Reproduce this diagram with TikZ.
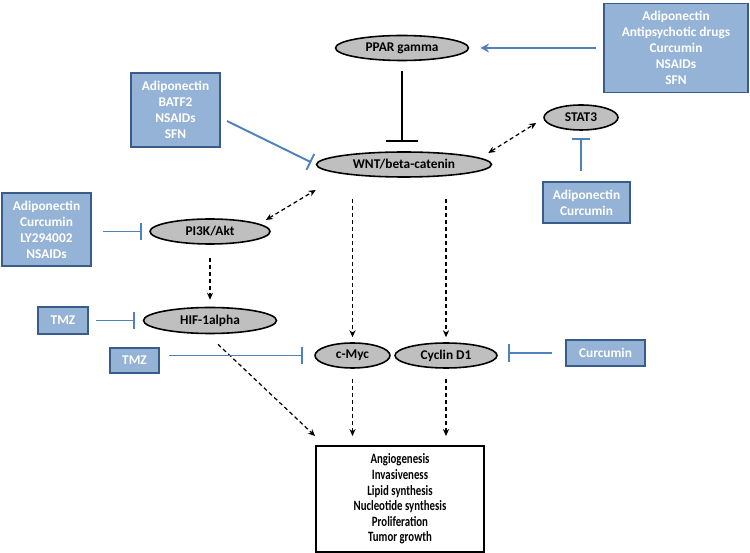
\documentclass[tikz,border=0pt]{standalone}
\usepackage{fontspec}
\setmainfont{Carlito}
\newfontfamily\narrowcal{Carlito}[FakeStretch=0.76]
\usepackage{tikz}
\usetikzlibrary{shapes.geometric}
\usetikzlibrary{arrows.meta}
\definecolor{drugfill}{HTML}{95B3D7}
\definecolor{drugedge}{HTML}{385D8A}
\definecolor{drugline}{HTML}{4F81BD}
\definecolor{genefill}{HTML}{BFBFBF}

\begin{document}
\begin{tikzpicture}[x=0.02cm, y=-0.02cm,
gene/.style={ellipse, draw=black, line width=0.9pt, fill=genefill, inner sep=1pt, font=\fontsize{7.6}{9}\selectfont\bfseries},
drug/.style={rectangle, draw=drugedge, line width=0.9pt, fill=drugfill, text=white, align=center, inner sep=1pt, font=\fontsize{7.6}{9.07}\selectfont\bfseries},
effect/.style={rectangle, draw=black, line width=1.1pt, align=center, inner sep=1pt, font=\narrowcal\fontsize{8.1}{8.85}\selectfont\bfseries},
blocks/.style={draw=drugline, line width=1.1pt, -{Bar[width=10pt]}},
stops/.style={draw=black, line width=1.4pt, -{Bar[width=18.7pt]}},
drives/.style={draw=drugline, line width=1.1pt, -{Stealth[length=5pt,width=5pt]}},
acts/.style={draw=black, line width=0.7pt, dash pattern=on 2.3pt off 1.7pt, -{Stealth[length=4pt,width=3.5pt]}},
links/.style={acts, {Stealth[length=4pt,width=3.5pt]}-{Stealth[length=4pt,width=3.5pt]}}]
\useasboundingbox (0,0) rectangle (750,553);

\node[drug, minimum width=2.88cm, minimum height=1.78cm] (topdrugs) at (676,48) {Adiponectin\\Antipsychotic drugs\\Curcumin\\NSAIDs\\SFN};
\node[gene, minimum width=2.66cm, minimum height=0.5cm] (ppar) at (402,48) {PPAR gamma};
\node[gene, minimum width=3.5cm, minimum height=0.5cm] (wnt) at (404,164.5) {WNT/beta-catenin};
\node[gene, minimum width=1.48cm, minimum height=0.5cm] (stat3) at (581,117.5) {STAT3};
\node[drug, minimum width=1.74cm, minimum height=0.82cm] (stat3drugs) at (586.5,202.5) {Adiponectin\\Curcumin};
\node[drug, minimum width=1.78cm, minimum height=1.48cm] (wntdrugs) at (175.5,110) {Adiponectin\\BATF2\\NSAIDs\\SFN};
\node[drug, minimum width=1.78cm, minimum height=1.46cm] (aktdrugs) at (46.5,229.5) {Adiponectin\\Curcumin\\LY294002\\NSAIDs};
\node[gene, minimum width=2.4cm, minimum height=0.5cm] (pi3k) at (210,231.5) {PI3K/Akt};
\node[gene, minimum width=2.66cm, minimum height=0.52cm] (hif) at (210,320.5) {HIF-1alpha};
\node[drug, minimum width=1cm, minimum height=0.54cm] (tmzhif) at (63,320.5) {TMZ};
\node[drug, minimum width=0.98cm, minimum height=0.5cm] (tmzmyc) at (134.5,360.5) {TMZ};
\node[gene, minimum width=1.5cm, minimum height=0.5cm] (myc) at (352.5,355.5) {c-Myc};
\node[gene, minimum width=2.04cm, minimum height=0.5cm] (cyclin) at (446,355.5) {Cyclin D1};
\node[drug, minimum width=1.58cm, minimum height=0.52cm] (cycdrugs) at (605.5,353) {Curcumin};
\node[effect, minimum width=3.36cm, minimum height=2.12cm] (outcome) at (400,499) {Angiogenesis\\Invasiveness\\Lipid synthesis\\Nucleotide synthesis\\Proliferation\\Tumor growth};

\draw[drives, shorten <=0.14cm, shorten >=0.22cm] (topdrugs.west) -- (ppar.east);
\draw[stops, shorten <=0.19cm, shorten >=0.18cm] (ppar.south) -- (ppar.south |- wnt.north);
\draw[blocks, shorten <=0.14cm, shorten >=0.1cm] (wntdrugs.-10) -- (wnt.west);
\draw[links] ([xshift=-0.08cm,yshift=0.23cm]wnt.east) -- ([xshift=-0.14cm,yshift=-0.11cm]stat3.west);
\draw[blocks, shorten <=0.2cm, shorten >=0.14cm] (stat3.south |- stat3drugs.north) -- (stat3.south);
\draw[links] ([xshift=-0.1cm,yshift=0.23cm]pi3k.east) -- ([yshift=-0.51cm]wnt.west);
\draw[blocks, shorten <=0.22cm, shorten >=0.14cm] (aktdrugs.east |- pi3k.west) -- (pi3k.west);
\draw[acts, shorten <=0.26cm, shorten >=0.14cm] (pi3k.south) -- (hif.north);
\draw[blocks, shorten <=0.14cm, shorten >=0.16cm] (tmzhif.east) -- (hif.west);
\draw[acts] ([xshift=0.16cm,yshift=-0.2cm]hif.south) -- ([yshift=0.18cm]outcome.north west);
\draw[blocks, shorten <=0.18cm, shorten >=0.22cm] (tmzmyc.east |- myc.west) -- (myc.west);
\draw[blocks, shorten <=0.26cm, shorten >=0.2cm] (cycdrugs.west) -- (cycdrugs.west -| cyclin.east);
\draw[acts, shorten <=0.42cm, shorten >=0.1cm] (myc.north |- wnt.south) -- (myc.north);
\draw[acts, shorten <=0.42cm, shorten >=0.1cm] (cyclin.north |- wnt.south) -- (cyclin.north);
\draw[acts, shorten <=0.2cm, shorten >=0.18cm] (myc.south) -- (myc.south |- outcome.north);
\draw[acts, shorten <=0.2cm, shorten >=0.18cm] (cyclin.south) -- (cyclin.south |- outcome.north);
\end{tikzpicture}
\end{document}
